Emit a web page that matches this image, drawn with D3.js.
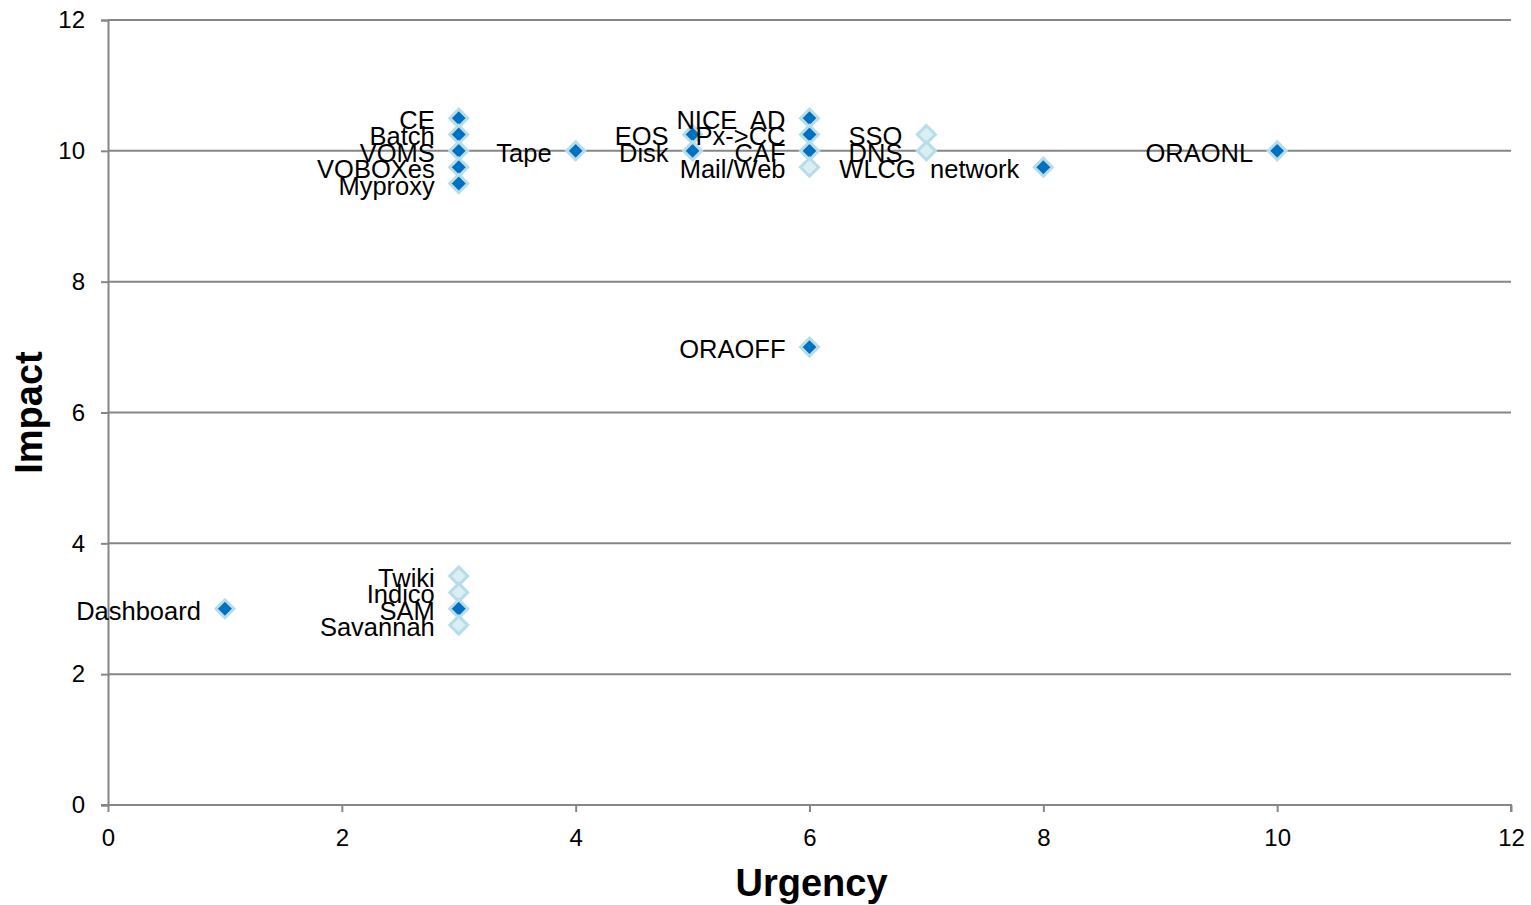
<!DOCTYPE html>
<html>
<head>
<meta charset="utf-8">
<script src="https://cdn.jsdelivr.net/npm/d3@7"></script>
<style>
  html, body { margin: 0; padding: 0; background: #fff; }
  svg { display: block; font-family: "Liberation Sans", Arial, sans-serif; }
  .pt-label { white-space: pre; }
</style>
</head>
<body>
<svg id="chart" width="1531" height="905"></svg>
<script>
// Services plotted by urgency (x) and impact (y)
const names   = ["CE", "Batch", "VOMS", "VOBOXes", "Myproxy", "Tape", "EOS", "Disk",
                 "NICE  AD", "Px->CC", "CAF", "Mail/Web", "SSO", "DNS", "WLCG  network",
                 "ORAONL", "ORAOFF", "Dashboard", "Twiki", "Indico", "SAM", "Savannah"];
const urgency = [3, 3, 3, 3, 3, 4, 5, 5,
                 6, 6, 6, 6, 7, 7, 8,
                 10, 6, 1, 3, 3, 3, 3];
const impact  = [10.5, 10.25, 10, 9.75, 9.5, 10, 10.25, 10,
                 10.5, 10.25, 10, 9.75, 10.25, 10, 9.75,
                 10, 7, 3, 3.5, 3.25, 3, 2.75];
// 1 = filled (dark) marker, 0 = pale marker
const filled  = [1, 1, 1, 1, 1, 1, 1, 1,
                 1, 1, 1, 0, 0, 0, 1,
                 1, 1, 1, 0, 0, 1, 0];

const xTicks = [0, 2, 4, 6, 8, 10, 12];
const yTicks = [0, 2, 4, 6, 8, 10, 12];

const points = names.map((n, i) => ({ name: n, x: urgency[i], y: impact[i], filled: filled[i] }));

const svg = d3.select("#chart");
const plot = { left: 108, right: 1511, top: 20, bottom: 805 };

const x = d3.scaleLinear().domain([0, 12]).range([plot.left, plot.right]);
const y = d3.scaleLinear().domain([0, 12]).range([plot.bottom, plot.top]);

const axisColor = "#868686";

// horizontal gridlines
svg.append("g").selectAll("line")
  .data(yTicks.filter(t => t > 0))
  .join("line")
  .attr("x1", plot.left).attr("x2", plot.right)
  .attr("y1", d => y(d)).attr("y2", d => y(d))
  .attr("stroke", axisColor).attr("stroke-width", 2);

// y axis
const yAxis = svg.append("g")
  .attr("transform", `translate(${plot.left},0)`)
  .call(d3.axisLeft(y).tickValues(yTicks).tickSize(7).tickPadding(16).tickFormat(d3.format("d")));
yAxis.select(".domain").attr("stroke", axisColor).attr("stroke-width", 2);
yAxis.selectAll(".tick line").attr("stroke", axisColor).attr("stroke-width", 2);
yAxis.selectAll(".tick text")
  .attr("font-size", 24).attr("fill", "#000")
  .attr("font-family", "'Liberation Sans', Arial, sans-serif");

// x axis
const xAxis = svg.append("g")
  .attr("transform", `translate(0,${plot.bottom})`)
  .call(d3.axisBottom(x).tickValues(xTicks).tickSize(7).tickPadding(17).tickFormat(d3.format("d")));
xAxis.select(".domain").attr("stroke", axisColor).attr("stroke-width", 2)
  .attr("d", `M${plot.left - 7},0H${plot.right}V7`);
xAxis.selectAll(".tick line").attr("stroke", axisColor).attr("stroke-width", 2);
xAxis.selectAll(".tick text")
  .attr("font-size", 24).attr("fill", "#000")
  .attr("font-family", "'Liberation Sans', Arial, sans-serif");

// markers
const diamond = "M0,-9L9,0L0,9L-9,0Z";
svg.append("g").selectAll("path")
  .data(points)
  .join("path")
  .attr("d", diamond)
  .attr("transform", d => `translate(${x(d.x)},${y(d.y)})`)
  .attr("fill", d => d.filled ? "#0070C0" : "#DAEEF3")
  .attr("stroke", "#B7DDE8")
  .attr("stroke-width", 3)
  .attr("stroke-linejoin", "miter");

// point labels, to the left of each marker
svg.append("g").selectAll("text")
  .data(points)
  .join("text")
  .attr("class", "pt-label")
  .attr("x", d => x(d.x) - 24)
  .attr("y", d => y(d.y) + 11)
  .attr("text-anchor", "end")
  .attr("font-size", 25.5)
  .attr("fill", "#000")
  .text(d => d.name);

// axis titles
svg.append("text")
  .attr("x", (plot.left + plot.right) / 2 + 2)
  .attr("y", 896)
  .attr("text-anchor", "middle")
  .attr("font-size", 38)
  .attr("font-weight", "bold")
  .text("Urgency");

svg.append("text")
  .attr("transform", `translate(42,${(plot.top + plot.bottom) / 2}) rotate(-90)`)
  .attr("text-anchor", "middle")
  .attr("font-size", 38)
  .attr("font-weight", "bold")
  .text("Impact");
</script>
</body>
</html>
